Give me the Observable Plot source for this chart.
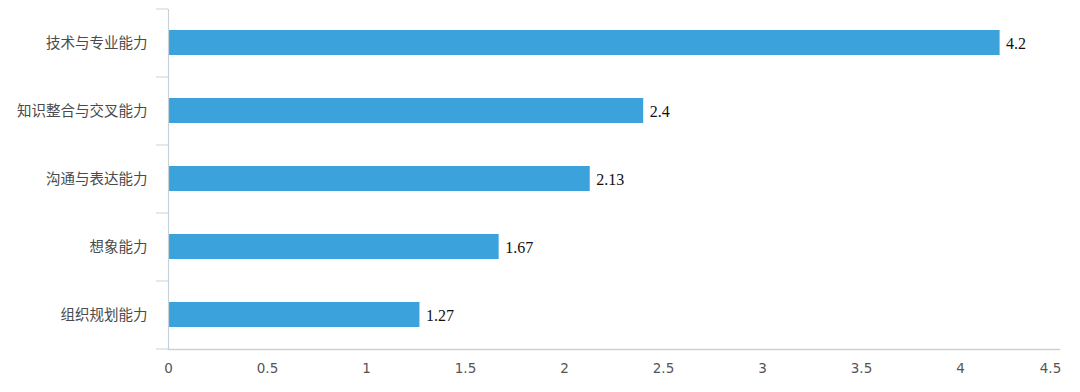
<!DOCTYPE html>
<html>
<head>
<meta charset="utf-8">
<script src="https://cdn.jsdelivr.net/npm/d3@7"></script>
<script src="https://cdn.jsdelivr.net/npm/@observablehq/plot@0.6"></script>
<style>
  html, body { margin: 0; padding: 0; background: #fff; }
  #chart svg { display: block; }
</style>
</head>
<body>
<div id="chart"></div>
<script>
const categories = ["技术与专业能力", "知识整合与交叉能力", "沟通与表达能力", "想象能力", "组织规划能力"];
const values = [4.2, 2.4, 2.13, 1.67, 1.27];
const labels = ["4.2", "2.4", "2.13", "1.67", "1.27"];
const xTicks = [0, 0.5, 1, 1.5, 2, 2.5, 3, 3.5, 4, 4.5];

const data = categories.map((c, i) => ({category: c, value: values[i], label: labels[i]}));

const axisColor = "#c9d1d8";
const sans = "'Noto Sans CJK SC', 'Noto Sans', sans-serif";
const fmt = d => String(d);

const chart = Plot.plot({
  width: 1080,
  height: 392,
  marginLeft: 168,
  marginRight: 21,
  marginTop: 9,
  marginBottom: 43,
  style: {fontFamily: sans, background: "#fff"},
  x: {domain: [0, 4.5]},
  y: {domain: categories, paddingInner: 0.632, paddingOuter: 0.316},
  marks: [
    Plot.barX(data, {x: "value", y: "category", fill: "#3ba2db"}),
    Plot.text(data, {x: "value", y: "category", text: "label", textAnchor: "start", dx: 6, dy: 1,
      fill: "#111", fontSize: 16, fontFamily: "'Liberation Serif', 'DejaVu Serif', serif"}),
    Plot.ruleX([0], {stroke: axisColor, strokeWidth: 1.2}),
    Plot.frame({anchor: "bottom", stroke: axisColor, strokeWidth: 1.5}),
    Plot.axisY({ticks: categories, tickSize: 12, text: null, label: null, stroke: axisColor, strokeOpacity: 1, dy: -34}),
    Plot.axisY({ticks: categories.slice(-1), tickSize: 12, text: null, label: null, stroke: axisColor, strokeOpacity: 1, dy: 34}),
    Plot.axisY({ticks: categories, tickSize: 0, tickPadding: 21, fontSize: 14.5, fill: "#4a4a4a", label: null}),
    Plot.axisX({ticks: xTicks.slice(0, -1), tickFormat: fmt, tickSize: 0, tickPadding: 14, fontSize: 13.5, fill: "#555",
      fontFamily: "'DejaVu Sans', sans-serif", label: null}),
    Plot.axisX({ticks: xTicks.slice(-1), tickFormat: fmt, tickSize: 0, tickPadding: 14, fontSize: 13.5, fill: "#555",
      fontFamily: "'DejaVu Sans', sans-serif", label: null, dx: -9})
  ]
});
document.getElementById("chart").appendChild(chart);
</script>
</body>
</html>
